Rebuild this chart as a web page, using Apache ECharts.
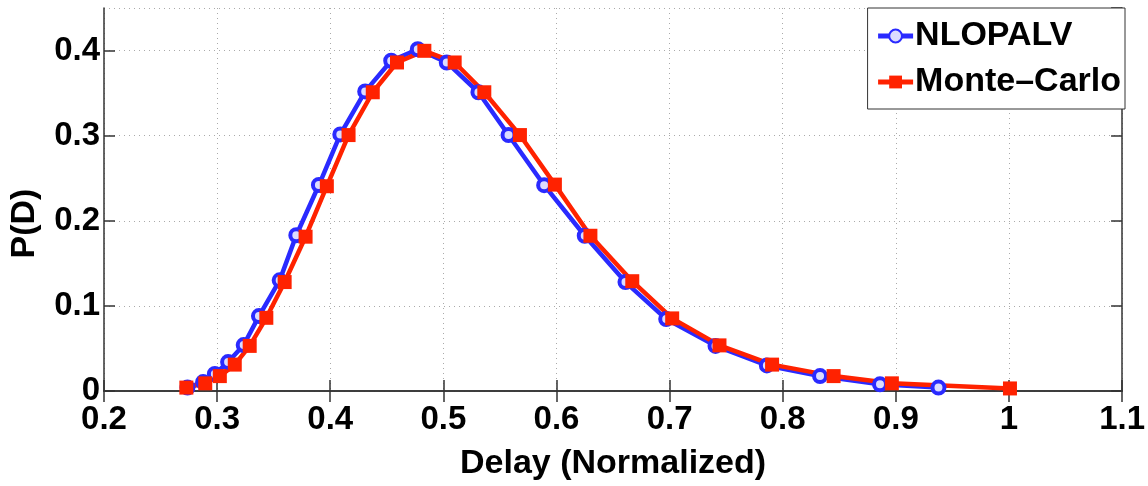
<!DOCTYPE html>
<html>
<head>
<meta charset="utf-8">
<script src="https://cdn.jsdelivr.net/npm/echarts@6/dist/echarts.min.js"></script>
<style>
  html, body { margin: 0; padding: 0; background: #fff; }
  #chart { width: 1148px; height: 486px; }
</style>
</head>
<body>
<div id="chart"></div>
<script>
// delay (normalized) vs P(D)
var nlopalvX = [0.2738, 0.2876, 0.298, 0.3097, 0.3235, 0.337, 0.3553, 0.370, 0.390, 0.4089, 0.4309, 0.4539,
                0.4774, 0.503, 0.5310, 0.5576, 0.5891, 0.625, 0.661, 0.697, 0.7406, 0.786, 0.833, 0.886, 0.9377];
var nlopalvY = [0.004, 0.0105, 0.020, 0.034, 0.054, 0.088, 0.130, 0.183, 0.242, 0.3015, 0.352, 0.388,
                0.4016, 0.386, 0.351, 0.3007, 0.2418, 0.1824, 0.128, 0.0845, 0.053, 0.030, 0.0175, 0.0078, 0.004];

var monteX = [0.2728, 0.2895, 0.3024, 0.3156, 0.3288, 0.3435, 0.3597, 0.3782, 0.397, 0.4162, 0.4376, 0.4590,
              0.4832, 0.5100, 0.5362, 0.5677, 0.5986, 0.630, 0.667, 0.7023, 0.7441, 0.7906, 0.845, 0.8965, 1.0009];
var monteY = [0.004, 0.009, 0.0175, 0.031, 0.053, 0.086, 0.128, 0.1813, 0.2406, 0.3007, 0.351, 0.386,
              0.3997, 0.386, 0.351, 0.3007, 0.2425, 0.1824, 0.129, 0.0853, 0.0536, 0.031, 0.0175, 0.009, 0.003];

var seriesNames = ['NLOPALV', 'Monte–Carlo'];
var xRange = [0.2, 1.1];
var yRange = [0, 0.45];

function pairs(xs, ys) {
    return xs.map(function (x, i) { return [x, ys[i]]; });
}

function tickText(v) {
    return String(+v.toFixed(2));
}

var chart = echarts.init(document.getElementById('chart'));

var font = 'Liberation Sans';
var tickFont = { fontFamily: font, fontWeight: 'bold', fontSize: 33, color: '#000' };
var frame = { color: '#333', width: 1.5 };

var option = {
    animation: false,
    grid: {
        left: 104,
        right: 23,
        top: 8,
        bottom: 91,
        show: false
    },
    legend: {
        right: 23,
        top: 8,
        orient: 'vertical',
        backgroundColor: '#fff',
        borderColor: '#333',
        borderWidth: 1,
        borderRadius: 0,
        padding: [11, 4, 10, 8],
        itemGap: 12,
        itemWidth: 35,
        itemHeight: 16,
        lineStyle: { width: 5 },
        textStyle: { fontFamily: font, fontWeight: 'bold', fontSize: 34, color: '#000', padding: [0, 0, 0, -3] },
        data: seriesNames
    },
    xAxis: [
        {
            type: 'value',
            min: xRange[0],
            max: xRange[1],
            interval: 0.1,
            name: 'Delay (Normalized)',
            nameLocation: 'middle',
            nameGap: 56,
            nameTextStyle: { fontFamily: font, fontWeight: 'bold', fontSize: 34, color: '#000' },
            axisLine: { show: true, lineStyle: frame },
            axisTick: { show: true, inside: true, length: 11, lineStyle: frame },
            axisLabel: Object.assign({ margin: 12, formatter: tickText }, tickFont),
            splitLine: { show: true, lineStyle: { color: '#aaa', type: [1, 4], width: 1 } }
        },
        {
            type: 'value',
            position: 'top',
            min: xRange[0],
            max: xRange[1],
            interval: 0.1,
            axisLine: { show: true, lineStyle: frame },
            axisTick: { show: true, inside: true, length: 11, lineStyle: frame },
            axisLabel: { show: false },
            splitLine: { show: false }
        }
    ],
    yAxis: [
        {
            type: 'value',
            min: yRange[0],
            max: yRange[1],
            interval: 0.1,
            name: 'P(D)',
            nameLocation: 'middle',
            nameGap: 62,
            nameTextStyle: { fontFamily: font, fontWeight: 'bold', fontSize: 34, color: '#000', padding: [0, 48, 0, 0] },
            axisLine: { show: true, lineStyle: frame },
            axisTick: { show: true, inside: true, length: 11, lineStyle: frame },
            axisLabel: Object.assign({ margin: 4, showMaxLabel: false, formatter: tickText }, tickFont),
            splitLine: { show: true, lineStyle: { color: '#aaa', type: [1, 4], width: 1 } }
        },
        {
            type: 'value',
            position: 'right',
            min: yRange[0],
            max: yRange[1],
            interval: 0.1,
            axisLine: { show: true, lineStyle: frame },
            axisTick: { show: true, inside: true, length: 11, lineStyle: frame },
            axisLabel: { show: false },
            splitLine: { show: false }
        }
    ],
    series: [
        {
            name: seriesNames[0],
            type: 'line',
            xAxisIndex: 0,
            yAxisIndex: 0,
            data: pairs(nlopalvX, nlopalvY),
            symbol: 'circle',
            symbolSize: 12,
            showAllSymbol: true,
            color: '#2a2aff',
            lineStyle: { color: '#2a2aff', width: 4.5 },
            itemStyle: { color: '#dcdcff', borderColor: '#2a2aff', borderWidth: 4 }
        },
        {
            name: seriesNames[1],
            type: 'line',
            xAxisIndex: 0,
            yAxisIndex: 0,
            data: pairs(monteX, monteY),
            symbol: 'rect',
            symbolSize: 14,
            showAllSymbol: true,
            color: '#ff2200',
            lineStyle: { color: '#ff2200', width: 4.5 },
            itemStyle: { color: '#ff2200' }
        }
    ]
};

chart.setOption(option);
</script>
</body>
</html>
